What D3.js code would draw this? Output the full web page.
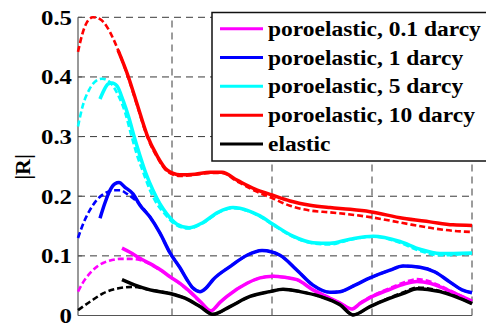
<!DOCTYPE html>
<html>
<head>
<meta charset="utf-8">
<script src="https://cdn.jsdelivr.net/npm/d3@7"></script>
<style>
    body { margin: 0; background: white; }
    svg { display: block; }
    text { font-family: "Liberation Serif", "DejaVu Serif", serif; font-weight: bold; }
</style>
</head>
<body>
<svg id="chart" width="486" height="323"></svg>
<script>
// series: [x, |R|], solid = computed, dashed = approximation
const mag01Solid = [[0.50,0.113],[0.58,0.106],[0.68,0.096],[0.78,0.087],[0.88,0.077],[0.98,0.065],[1.08,0.054],[1.18,0.040],[1.28,0.024],[1.39,0.008],[1.48,0.022],[1.55,0.032],[1.75,0.054],[1.88,0.063],[2.01,0.066],[2.13,0.064],[2.25,0.060],[2.41,0.043],[2.58,0.029],[2.68,0.021],[2.80,0.011],[2.88,0.020],[2.98,0.030],[3.18,0.044],[3.33,0.053],[3.45,0.057],[3.58,0.054],[3.68,0.048],[3.83,0.037],[4.00,0.024]];
const mag01Dash = [[0.06,0.040],[0.12,0.058],[0.18,0.071],[0.25,0.082],[0.31,0.088],[0.40,0.093],[0.48,0.095],[0.58,0.095],[0.68,0.093],[0.78,0.086],[0.88,0.076],[0.98,0.065],[1.08,0.053],[1.18,0.039],[1.28,0.023],[1.39,0.008],[1.48,0.022],[1.55,0.032],[1.75,0.054],[1.88,0.063],[2.01,0.066],[2.13,0.064],[2.25,0.060],[2.41,0.043],[2.58,0.029],[2.68,0.021],[2.80,0.011],[2.88,0.021],[2.98,0.031],[3.18,0.046],[3.33,0.056],[3.45,0.061],[3.58,0.057],[3.68,0.050],[3.83,0.038],[4.00,0.024]];

const blue1Solid = [[0.28,0.163],[0.33,0.189],[0.38,0.210],[0.43,0.221],[0.47,0.223],[0.53,0.215],[0.61,0.204],[0.68,0.185],[0.78,0.165],[0.88,0.138],[0.98,0.105],[1.08,0.080],[1.15,0.060],[1.21,0.046],[1.28,0.040],[1.34,0.046],[1.41,0.060],[1.58,0.082],[1.75,0.101],[1.90,0.109],[2.08,0.101],[2.25,0.076],[2.41,0.051],[2.58,0.039],[2.68,0.040],[2.83,0.051],[2.98,0.063],[3.18,0.076],[3.31,0.083],[3.48,0.081],[3.63,0.073],[3.78,0.056],[3.90,0.043],[4.00,0.038]];
const blue1Dash = [[0.06,0.130],[0.12,0.157],[0.18,0.177],[0.25,0.194],[0.33,0.205],[0.41,0.210],[0.48,0.210],[0.55,0.204],[0.63,0.194],[0.71,0.180],[0.78,0.165],[0.88,0.138],[0.98,0.105],[1.08,0.080],[1.15,0.060],[1.21,0.046],[1.28,0.040],[1.34,0.046],[1.41,0.060],[1.58,0.082],[1.75,0.101],[1.90,0.109],[2.08,0.101],[2.25,0.076],[2.41,0.051],[2.58,0.039],[2.68,0.040],[2.83,0.051],[2.98,0.063],[3.18,0.076],[3.31,0.083],[3.48,0.081],[3.63,0.073],[3.78,0.056],[3.90,0.043],[4.00,0.038]];

const cyan5Solid = [[0.28,0.363],[0.32,0.378],[0.36,0.388],[0.40,0.390],[0.45,0.385],[0.51,0.361],[0.57,0.331],[0.62,0.301],[0.68,0.268],[0.74,0.238],[0.81,0.210],[0.88,0.187],[0.95,0.170],[1.05,0.153],[1.17,0.147],[1.31,0.156],[1.46,0.173],[1.61,0.181],[1.76,0.176],[1.88,0.167],[2.01,0.153],[2.21,0.133],[2.41,0.122],[2.58,0.121],[2.78,0.128],[3.01,0.133],[3.28,0.124],[3.48,0.111],[3.68,0.104],[4.00,0.105]];
const cyan5Dash = [[0.06,0.317],[0.11,0.353],[0.17,0.378],[0.23,0.392],[0.30,0.397],[0.38,0.391],[0.46,0.370],[0.53,0.341],[0.59,0.304],[0.65,0.269],[0.71,0.241],[0.78,0.210],[0.85,0.187],[0.93,0.170],[1.03,0.153],[1.16,0.146],[1.31,0.155],[1.46,0.172],[1.61,0.180],[1.76,0.175],[1.88,0.166],[2.01,0.152],[2.21,0.132],[2.41,0.121],[2.58,0.119],[2.78,0.127],[3.01,0.132],[3.28,0.122],[3.48,0.108],[3.68,0.101],[4.00,0.104]];

const red10Solid = [[0.46,0.445],[0.56,0.402],[0.65,0.355],[0.75,0.303],[0.85,0.268],[0.95,0.244],[1.08,0.236],[1.23,0.237],[1.38,0.240],[1.50,0.240],[1.65,0.227],[1.83,0.212],[2.00,0.202],[2.18,0.192],[2.38,0.185],[2.58,0.181],[2.78,0.178],[2.98,0.174],[3.31,0.163],[3.58,0.157],[3.81,0.152],[4.00,0.151]];
const red10Dash = [[0.06,0.442],[0.10,0.470],[0.15,0.492],[0.21,0.500],[0.28,0.497],[0.35,0.484],[0.41,0.465],[0.48,0.437],[0.56,0.400],[0.65,0.353],[0.75,0.301],[0.85,0.266],[0.95,0.242],[1.08,0.234],[1.23,0.236],[1.38,0.239],[1.50,0.239],[1.65,0.225],[1.83,0.209],[2.00,0.197],[2.18,0.184],[2.38,0.176],[2.58,0.173],[2.98,0.165],[3.31,0.155],[3.58,0.147],[3.81,0.142],[4.00,0.140]];

const elasticSolid = [[0.50,0.060],[0.63,0.051],[0.78,0.043],[0.98,0.037],[1.13,0.029],[1.28,0.015],[1.41,0.002],[1.58,0.015],[1.78,0.032],[1.98,0.040],[2.11,0.044],[2.28,0.040],[2.48,0.032],[2.68,0.018],[2.81,0.001],[2.98,0.015],[3.18,0.029],[3.33,0.038],[3.45,0.045],[3.68,0.040],[4.00,0.020]];
const elasticDash = [[0.06,0.009],[0.18,0.023],[0.31,0.037],[0.48,0.046],[0.61,0.048],[0.78,0.043],[0.98,0.037],[1.13,0.029],[1.28,0.015],[1.41,0.002],[1.58,0.015],[1.78,0.032],[1.98,0.040],[2.11,0.044],[2.28,0.040],[2.48,0.032],[2.68,0.018],[2.81,0.001],[2.98,0.015],[3.18,0.030],[3.33,0.040],[3.45,0.047],[3.68,0.041],[4.00,0.020]];

const legendLabels = ["poroelastic, 0.1 darcy", "poroelastic, 1 darcy", "poroelastic, 5 darcy", "poroelastic, 10 darcy", "elastic"];
const colors = ["#ff00ff", "#0000ff", "#00ffff", "#ff0000", "#000000"];
const yTicks = [0, 0.1, 0.2, 0.3, 0.4, 0.5];
const xTicks = [1, 2, 3, 4];

const series = [
    {solid: mag01Solid, dash: mag01Dash},
    {solid: blue1Solid, dash: blue1Dash},
    {solid: cyan5Solid, dash: cyan5Dash},
    {solid: red10Solid, dash: red10Dash},
    {solid: elasticSolid, dash: elasticDash}
];

const margin = {left: 78, top: 17.3, right: 14, bottom: 7.5};
const W = 486, H = 323;

const svg = d3.select("#chart");

const x = d3.scaleLinear().domain([0.06, 4]).range([margin.left, W - margin.right]);
const y = d3.scaleLinear().domain([0, 0.5]).range([H - margin.bottom, margin.top]);

// grid
const grid = svg.append("g")
    .attr("stroke", "#3a3a3a")
    .attr("stroke-width", 1)
    .attr("stroke-dasharray", "7,5");

grid.selectAll(".hg")
    .data(yTicks.filter(d => d > 0))
    .enter()
    .append("line")
    .attr("x1", x.range()[0]).attr("x2", x.range()[1])
    .attr("y1", d => y(d)).attr("y2", d => y(d));

grid.selectAll(".vg")
    .data(xTicks)
    .enter()
    .append("line")
    .attr("x1", d => x(d)).attr("x2", d => x(d))
    .attr("y1", y.range()[0]).attr("y2", y.range()[1]);

// axis lines + inward ticks
const axisColor = "#555";
svg.append("line")
    .attr("x1", x.range()[0]).attr("x2", x.range()[0])
    .attr("y1", y.range()[0]).attr("y2", y.range()[1])
    .attr("stroke", axisColor).attr("stroke-width", 1.2);
svg.append("line")
    .attr("x1", x.range()[0]).attr("x2", x.range()[1])
    .attr("y1", y.range()[0]).attr("y2", y.range()[0])
    .attr("stroke", axisColor).attr("stroke-width", 1.2);

svg.selectAll(".ytick")
    .data(yTicks)
    .enter()
    .append("line")
    .attr("x1", x.range()[0]).attr("x2", x.range()[0] + 4)
    .attr("y1", d => y(d)).attr("y2", d => y(d))
    .attr("stroke", axisColor);

// the picture's text is wider than tall, so stretch to measured widths
function fitWidth(sel, target) {
    const w = sel.node().getComputedTextLength();
    return target / w;
}

const yLabels = svg.selectAll(".ylab")
    .data(yTicks)
    .enter()
    .append("text")
    .attr("text-anchor", "end")
    .attr("font-size", 22)
    .text(d => d === 0 ? "0" : d3.format(".1f")(d));
const tickScale = fitWidth(yLabels.filter((d, i) => i === 4), 31);
yLabels.attr("transform", d => `translate(${x.range()[0] - 6},${y(d) + 7.5}) scale(${tickScale},1)`);

svg.append("text")
    .attr("transform", "translate(30,167) rotate(-90)")
    .attr("text-anchor", "middle")
    .attr("font-size", 22)
    .text("|R|");

// curves
const line = d3.line()
    .x(d => x(d[0]))
    .y(d => y(d[1]))
    .curve(d3.curveMonotoneX);

const plot = svg.append("g");
series.forEach((s, i) => {
    plot.append("path")
        .datum(s.solid)
        .attr("fill", "none")
        .attr("stroke", colors[i])
        .attr("stroke-width", 3.5)
        .attr("d", line);
    plot.append("path")
        .datum(s.dash)
        .attr("fill", "none")
        .attr("stroke", colors[i])
        .attr("stroke-width", 2.6)
        .attr("stroke-dasharray", "6,3")
        .attr("d", line);
});

// legend
const legend = svg.append("g");
legend.append("rect")
    .attr("x", 212).attr("y", 12.5)
    .attr("width", 290).attr("height", 148.5)
    .attr("fill", "white")
    .attr("stroke", "#111")
    .attr("stroke-width", 1.5);

const rowY = d3.scaleLinear().domain([0, 4]).range([28.7, 144]);
legendLabels.forEach((lab, i) => {
    legend.append("line")
        .attr("x1", 220).attr("x2", 263)
        .attr("y1", rowY(i)).attr("y2", rowY(i))
        .attr("stroke", colors[i])
        .attr("stroke-width", 3);
});
const legendText = legend.selectAll(".ltxt")
    .data(legendLabels)
    .enter()
    .append("text")
    .attr("font-size", 20.5)
    .text(d => d);
const legScale = fitWidth(legendText.filter((d, i) => i === 0), 213);
legendText.attr("transform", (d, i) => `translate(268,${rowY(i) + 7}) scale(${legScale},1)`);
</script>
</body>
</html>
